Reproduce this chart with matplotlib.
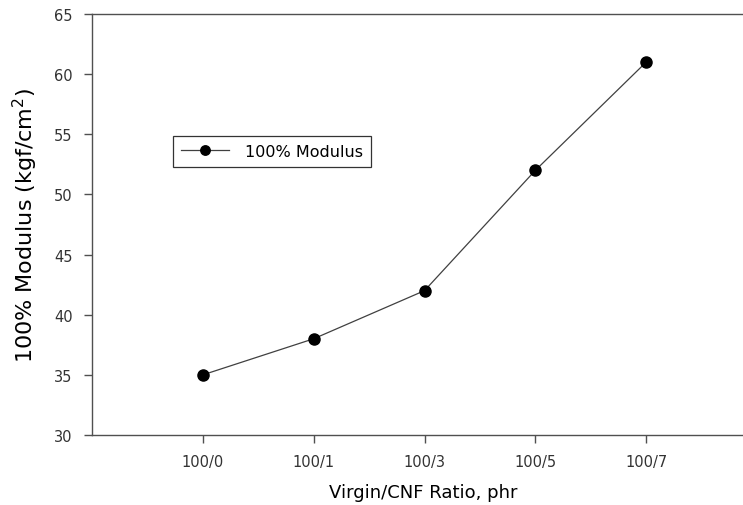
import matplotlib
matplotlib.use('Agg')
import matplotlib.pyplot as plt

plt.rcParams['font.family'] = ['DejaVu Sans']

# data
ratios = ['100/0', '100/1', '100/3', '100/5', '100/7']
modulus = [35, 38, 42, 52, 61]
y_ticks = [30, 35, 40, 45, 50, 55, 60, 65]

W, H = 743, 506
fig = plt.figure(figsize=(W / 100, H / 100), dpi=100)
# axes extend past the right edge of the figure (clipped like the original)
left, top, bottom = 92, 15, 436
ax_w = 665
ax = fig.add_axes([left / W, 1 - bottom / H, ax_w / W, (bottom - top) / H])

xpos = list(range(1, len(ratios) + 1))
ax.plot(xpos, modulus, color='#404040', lw=0.9, marker='o', ms=8,
        mfc='black', mec='black', label='100% Modulus')

ax.set_xlim(0, 6)
ax.set_ylim(30, 65)
ax.set_xticks(xpos)
ax.set_xticklabels(ratios)
ax.set_yticks(y_ticks)

spine_c = '#505050'
for s in ['left', 'bottom', 'top']:
    ax.spines[s].set_color(spine_c)
    ax.spines[s].set_linewidth(1.0)
ax.spines['right'].set_visible(False)
ax.tick_params(direction='out', length=6, width=1, color=spine_c,
               labelsize=10.5, labelcolor='#333333', pad=8)

ax.set_ylabel('100% Modulus (kgf/cm$^2$)', fontsize=16, labelpad=10)
fig.text(423 / W, 1 - 493 / H, 'Virgin/CNF Ratio, phr', fontsize=13,
         ha='center', va='center')

leg = ax.legend(loc='upper left', bbox_to_anchor=(0.122, 0.71),
                borderaxespad=0, fontsize=11.5, handlelength=3,
                handletextpad=1.0, borderpad=0.5, fancybox=False,
                framealpha=1, edgecolor='#333333', markerscale=0.85)
leg.get_frame().set_linewidth(0.9)

fig.savefig('out.png', dpi=100)
